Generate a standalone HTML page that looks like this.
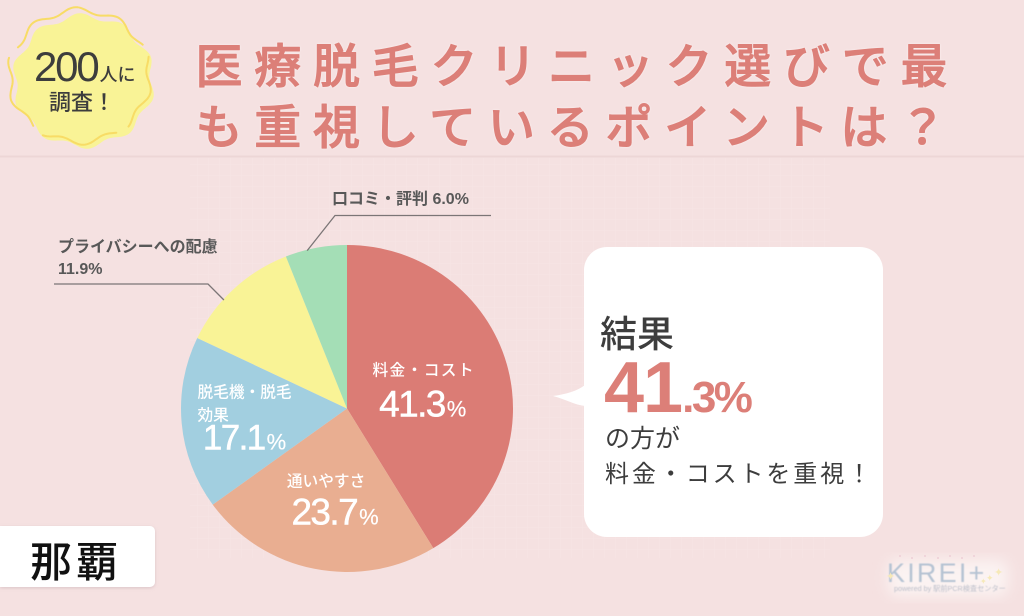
<!DOCTYPE html>
<html lang="ja">
<head>
<meta charset="utf-8">
<title>医療脱毛クリニック選びで最も重視しているポイントは？</title>
<style>
html,body{margin:0;padding:0;background:#f5e1e1;}
body{width:1024px;height:616px;overflow:hidden;position:relative;}
svg{display:block;position:absolute;left:0;top:0;}
text{font-family:"Liberation Sans","Noto Sans CJK JP",sans-serif;}
.title{font-size:47px;font-weight:500;fill:#dc7f78;letter-spacing:11.75px;stroke:#dc7f78;stroke-width:1px;stroke-linejoin:round;filter:drop-shadow(0 0 1px #fdf4f4);}
.sl{font-size:15.7px;font-weight:500;fill:#fff;}
.sv{font-size:37px;fill:#fff;stroke:#fff;stroke-width:.5px;letter-spacing:-1.6px;}
.sp{font-size:22px;fill:#fff;stroke-width:.2px;letter-spacing:0;}
.ol{font-size:16px;font-weight:700;fill:#585858;}
.dk{fill:#3d3d3d;}
</style>
</head>
<body>
<svg id="chart" width="1024" height="616" viewBox="0 0 1024 616" xmlns="http://www.w3.org/2000/svg">
  <defs>
    <pattern id="grid" width="11" height="11" patternUnits="userSpaceOnUse">
      <path d="M11 0V11M0 11H11" stroke="#f8e8e8" stroke-width="1" fill="none"/>
    </pattern>
    <filter id="blur" x="-20%" y="-20%" width="140%" height="140%"><feGaussianBlur stdDeviation="7"/></filter>
    <filter id="soft" x="-5%" y="-5%" width="110%" height="110%"><feGaussianBlur stdDeviation=".4"/></filter>
    <filter id="shadow" x="-10%" y="-20%" width="120%" height="140%"><feDropShadow dx="0" dy="1" stdDeviation="1.5" flood-color="#c9b0b6" flood-opacity=".6"/></filter>
  </defs>
  <rect width="1024" height="616" fill="#f5e1e1"/>
  <rect x="190" y="158" width="640" height="400" fill="url(#grid)" opacity=".6"/>
  <rect x="0" y="155.5" width="1024" height="2" fill="#edd6d6"/>

  <g id="badge">
    <path id="badge-fill" fill="#f9f396"/>
    <path id="badge-line" fill="none" stroke="#f8dc66" stroke-width="2" stroke-linecap="round" stroke-dasharray="78 14"/>
    <text x="34" y="81" font-size="42" letter-spacing="-2.2" class="dk">200<tspan font-size="18" dx="2" letter-spacing="0" font-weight="500">人に</tspan></text>
    <text x="49" y="110" font-size="22" font-weight="500" class="dk">調査！</text>
  </g>

  <text class="title" x="195.5" y="83">医療脱毛クリニック選びで最</text>
  <text class="title" x="195.5" y="144">も重視しているポイントは？</text>

  <g id="pie"></g>
  <g id="pie-labels"></g>

  <g>
    <path d="M585 385C577 391 567 394 553 396C565 399 575 405 585 406Z" fill="#fff"/>
    <rect x="584" y="247" width="299" height="290" rx="23" fill="#fff"/>
    <text x="600" y="347" font-size="37" font-weight="500" class="dk">結果</text>
    <text x="604" y="412" font-weight="700" fill="#dc7f78"><tspan id="callout-int" font-size="72" letter-spacing="-1">41</tspan><tspan id="callout-dec" font-size="44" letter-spacing="-2.5">.3%</tspan></text>
    <text x="605" y="447" font-size="25" class="dk">の方が</text>
    <text x="605" y="482" font-size="24" letter-spacing="2.9" class="dk">料金・コストを重視！</text>
  </g>

  <g>
    <path d="M0 526H150a5 5 0 0 1 5 5V582a5 5 0 0 1 -5 5H0Z" fill="#fff" filter="url(#shadow)"/>
    <text x="30" y="577" font-size="42" font-weight="500" letter-spacing="4" fill="#111">那覇</text>
  </g>

  <g>
    <rect x="888" y="560" width="120" height="36" rx="10" fill="#fbf3f2" filter="url(#blur)"/>
    <g fill="#eecfd6">
      <circle cx="900" cy="556" r="1"/><circle cx="912" cy="558" r="1"/><circle cx="925" cy="556" r="1"/><circle cx="938" cy="558" r="1"/><circle cx="950" cy="556" r="1"/><circle cx="962" cy="558" r="1"/><circle cx="974" cy="556" r="1"/>
    </g>
    <text x="887" y="582" font-size="27" letter-spacing="2.2" fill="#b5c3d3" filter="url(#soft)">KIREI+</text>
    <text x="894" y="591" font-size="7.2" fill="#bcbfca" filter="url(#soft)">powered by 駅前PCR検査センター</text>
    <text x="886" y="580" font-size="11" fill="#f6e9b8">✦</text>
    <text x="980" y="584" font-size="8" fill="#f6e9b8">✦</text>
    <text x="986" y="581" font-size="9" fill="#f6e9b8">✦</text>
    <text x="994" y="576" font-size="11" fill="#f6e9b8">✦</text>
  </g>
</svg>
<script>
const categories = ['料金・コスト', '通いやすさ', '脱毛機・脱毛効果', 'プライバシーへの配慮', '口コミ・評判'];
const values = [41.3, 23.7, 17.1, 11.9, 6.0];
const sliceColors = ['#db7c75', '#e9ae91', '#a2cfe0', '#f9f396', '#a4deb6'];

const NS = 'http://www.w3.org/2000/svg';
const cx = 347, cy = 408.5, rx = 166, ry = 163.5;
const total = values.reduce(function (a, b) { return a + b; }, 0);
function angleOf(v) { return v / total * Math.PI * 2; }
function polar(a, f) { return [cx + Math.sin(a) * rx * f, cy - Math.cos(a) * ry * f]; }

const pie = document.getElementById('pie');
const labels = document.getElementById('pie-labels');
const midAngles = [];
let acc = 0;
values.forEach(function (v, i) {
  const a0 = angleOf(acc), a1 = angleOf(acc + v);
  acc += v;
  midAngles.push((a0 + a1) / 2);
  const p0 = polar(a0, 1), p1 = polar(a1, 1);
  const large = (a1 - a0) > Math.PI ? 1 : 0;
  const path = document.createElementNS(NS, 'path');
  path.setAttribute('d', 'M' + cx + ' ' + cy + 'L' + p0[0] + ' ' + p0[1] + 'A' + rx + ' ' + ry + ' 0 ' + large + ' 1 ' + p1[0] + ' ' + p1[1] + 'Z');
  path.setAttribute('fill', sliceColors[i]);
  
  
  pie.appendChild(path);
});

function addText(cls, x, y, str, anchor) {
  const t = document.createElementNS(NS, 'text');
  t.setAttribute('class', cls);
  t.setAttribute('x', x);
  t.setAttribute('y', y);
  if (anchor) t.setAttribute('text-anchor', anchor);
  t.textContent = str;
  
  
  labels.appendChild(t);
  return t;
}
function addValue(i, x, y) {
  const t = addText('sv', x, y, values[i].toFixed(1), 'middle');
  const s = document.createElementNS(NS, 'tspan');
  s.setAttribute('class', 'sp');
  s.setAttribute('dx', '2');
  s.textContent = '%';
  t.appendChild(s);
  return t;
}

/* inside labels follow their slice's mid-angle */
const c0 = polar(midAngles[0], 0.48);
const l0 = addText('sl', c0[0], c0[1] - 12, categories[0], 'middle');
l0.setAttribute('style', 'letter-spacing:1.4px');
addValue(0, c0[0] - 1, c0[1] + 29);

const c1 = polar(midAngles[1], 0.55);
addText('sl', c1[0] - 3, c1[1] - 10, categories[1], 'middle');
addValue(1, c1[0] + 6, c1[1] + 28);

const c2 = polar(midAngles[2], 0.62);
const lbl = categories[2];
addText('sl', c2[0] - 47, c2[1] - 20, lbl.slice(0, 6));
addText('sl', c2[0] - 47, c2[1] + 3, lbl.slice(6));
const v2 = addValue(2, c2[0], c2[1] + 32);
v2.setAttribute('style', 'font-size:35px');

/* outside labels with leader lines */
function addLeader(points) {
  const l = document.createElementNS(NS, 'polyline');
  l.setAttribute('points', points.map(function (p) { return p.join(','); }).join(' '));
  l.setAttribute('fill', 'none');
  l.setAttribute('stroke', '#7b7576');
  l.setAttribute('stroke-width', '1.3');
  
  
  labels.appendChild(l);
}
addText('ol', 332, 204, categories[4] + ' ' + values[4].toFixed(1) + '%');
addLeader([[491, 215.5], [335, 215.5], polar(midAngles[4] - 0.055, 0.995)]);
addText('ol', 58, 252, categories[3]);
addText('ol', 58, 274, values[3].toFixed(1) + '%');
addLeader([[54, 284], [208, 284], polar(midAngles[3] - 0.09, 0.995)]);

/* callout figure comes from the leading value */
const parts = values[0].toFixed(1).split('.');
document.getElementById('callout-int').textContent = parts[0];
document.getElementById('callout-dec').textContent = '.' + parts[1] + '%';

/* wavy badge */
function wavy(x, y, r, amp) {
  let d = '';
  for (let k = 0; k <= 240; k++) {
    const a = k / 240 * Math.PI * 2;
    const rr = r + amp * Math.cos(a * 10 + 0.6);
    d += (k ? 'L' : 'M') + (x + Math.sin(a) * rr * 1.03).toFixed(1) + ' ' + (y - Math.cos(a) * rr * 0.97).toFixed(1);
  }
  return d + 'Z';
}
document.getElementById('badge-fill').setAttribute('d', wavy(83.5, 81, 67, 3));
document.getElementById('badge-line').setAttribute('d', wavy(79.5, 76, 68, 3));
</script>
</body>
</html>
